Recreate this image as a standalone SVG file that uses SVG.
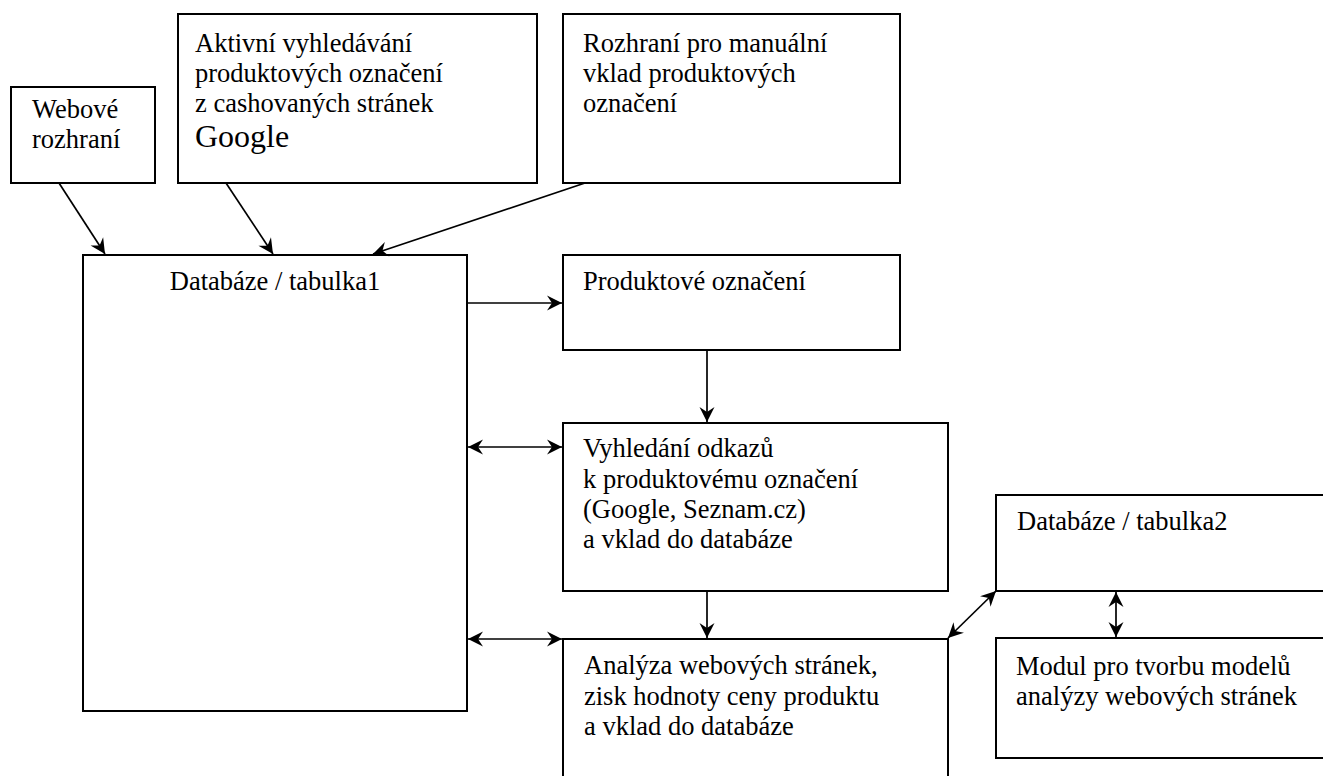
<svg xmlns="http://www.w3.org/2000/svg" width="1323" height="776" viewBox="0 0 1323 776">
  <style>
    .box { fill: #ffffff; stroke: #000000; stroke-width: 2; }
    .lbl { font-family: 'Liberation Serif', Tinos, 'Times New Roman', 'DejaVu Serif', serif; font-size: 26.5px; fill: #000000; }
    .big { font-size: 32px; }
    .conn { fill: none; stroke: #000000; stroke-width: 1.7; }
  </style>
  <defs>
    <!-- notched arrowhead shared by all connectors -->
    <marker id="arrow" viewBox="-16 -9 18 18" refX="0" refY="0" markerWidth="18" markerHeight="18" markerUnits="userSpaceOnUse" orient="auto-start-reverse">
      <path d="M0,0 L-15,-7.5 L-10,0 L-15,7.5 Z" fill="#000000"/>
    </marker>
  </defs>
  <rect width="1323" height="776" fill="#ffffff"/>

  <g id="node-webove-rozhrani">
    <rect class="box" x="11" y="87" width="144" height="96"/>
    <text class="lbl" x="32" y="118">Webové</text>
    <text class="lbl" x="32" y="148">rozhraní</text>
  </g>

  <g id="node-aktivni-vyhledavani">
    <rect class="box" x="178" y="14" width="359" height="169"/>
    <text class="lbl" x="195" y="52">Aktivní vyhledávání</text>
    <text class="lbl" x="195" y="82">produktových označení</text>
    <text class="lbl" x="195" y="112">z cashovaných stránek</text>
    <text class="lbl big" x="195" y="147">Google</text>
  </g>

  <g id="node-rozhrani-manualni">
    <rect class="box" x="563" y="14" width="337" height="169"/>
    <text class="lbl" x="583" y="52">Rozhraní pro manuální</text>
    <text class="lbl" x="583" y="82">vklad produktových</text>
    <text class="lbl" x="583" y="112">označení</text>
  </g>

  <g id="node-databaze-tabulka1">
    <rect class="box" x="83" y="255" width="384" height="456"/>
    <text class="lbl" x="275" y="290" text-anchor="middle">Databáze / tabulka1</text>
  </g>

  <g id="node-produktove-oznaceni">
    <rect class="box" x="563" y="255" width="337" height="95"/>
    <text class="lbl" x="583" y="290">Produktové označení</text>
  </g>

  <g id="node-vyhledani-odkazu">
    <rect class="box" x="563" y="423" width="385" height="168"/>
    <text class="lbl" x="583" y="457">Vyhledání odkazů</text>
    <text class="lbl" x="583" y="488">k produktovému označení</text>
    <text class="lbl" x="583" y="518">(Google, Seznam.cz)</text>
    <text class="lbl" x="583" y="548">a vklad do databáze</text>
  </g>

  <!-- lower boxes run past the bottom and right edges of the canvas -->
  <g id="node-analyza-stranek">
    <rect class="box" x="563" y="639" width="385" height="150"/>
    <text class="lbl" x="584" y="674">Analýza webových stránek,</text>
    <text class="lbl" x="584" y="705">zisk hodnoty ceny produktu</text>
    <text class="lbl" x="584" y="735">a vklad do databáze</text>
  </g>

  <g id="node-databaze-tabulka2">
    <rect class="box" x="996" y="495" width="340" height="96"/>
    <text class="lbl" x="1017" y="530">Databáze / tabulka2</text>
  </g>

  <g id="node-modul-modelu">
    <rect class="box" x="996" y="638" width="340" height="120"/>
    <text class="lbl" x="1016" y="675">Modul pro tvorbu modelů</text>
    <text class="lbl" x="1016" y="705">analýzy webových stránek</text>
  </g>

  <g id="connectors">
    <line class="conn" x1="59" y1="183" x2="105" y2="254" marker-end="url(#arrow)"/>
    <line class="conn" x1="226" y1="183" x2="273" y2="254" marker-end="url(#arrow)"/>
    <line class="conn" x1="585" y1="183" x2="373" y2="254" marker-end="url(#arrow)"/>
    <line class="conn" x1="468" y1="303" x2="562" y2="303" marker-end="url(#arrow)"/>
    <line class="conn" x1="707" y1="351" x2="707" y2="422" marker-end="url(#arrow)"/>
    <line class="conn" x1="468" y1="447" x2="562" y2="447" marker-start="url(#arrow)" marker-end="url(#arrow)"/>
    <line class="conn" x1="707" y1="592" x2="707" y2="638" marker-end="url(#arrow)"/>
    <line class="conn" x1="468" y1="639" x2="562" y2="639" marker-start="url(#arrow)" marker-end="url(#arrow)"/>
    <line class="conn" x1="948" y1="638" x2="996" y2="591" marker-start="url(#arrow)" marker-end="url(#arrow)"/>
    <line class="conn" x1="1116" y1="592" x2="1116" y2="637" marker-start="url(#arrow)" marker-end="url(#arrow)"/>
  </g>
</svg>
